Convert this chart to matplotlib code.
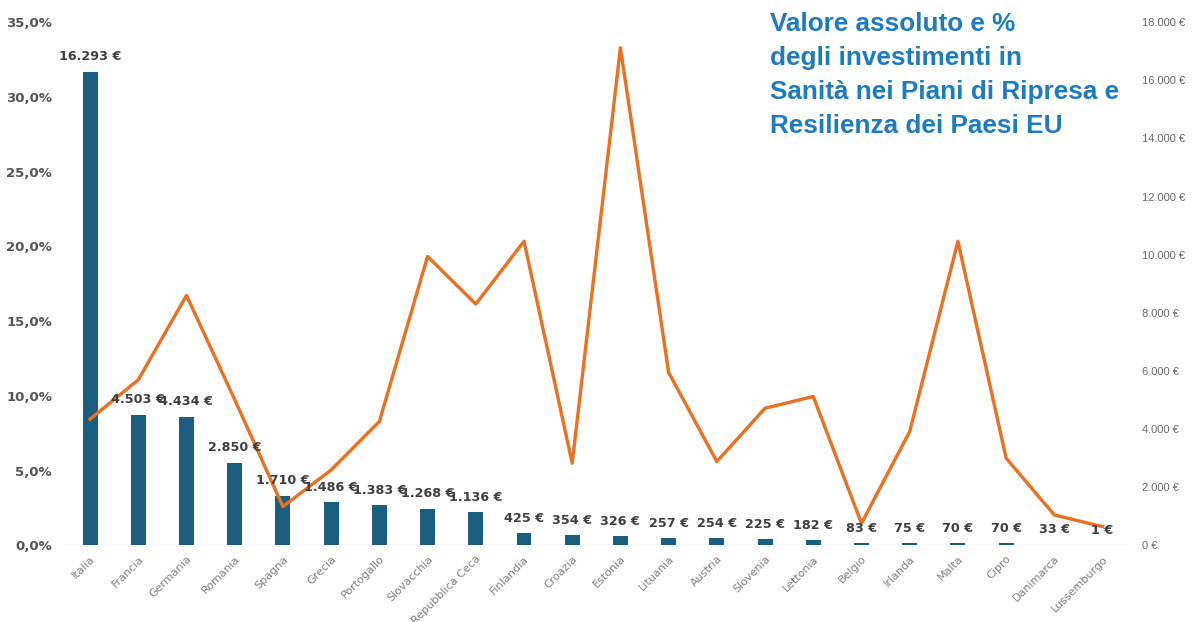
import matplotlib.pyplot as plt
from matplotlib.ticker import FuncFormatter

# Investimenti in sanità nei PNRR: valore assoluto (milioni di €) e quota %
paesi = ["Italia", "Francia", "Germania", "Romania", "Spagna", "Grecia",
         "Portogallo", "Slovacchia", "Repubblica Ceca", "Finlandia", "Croazia",
         "Estonia", "Lituania", "Austria", "Slovenia", "Lettonia", "Belgio",
         "Irlanda", "Malta", "Cipro", "Danimarca", "Lussemburgo"]
valori = [16293, 4503, 4434, 2850, 1710, 1486, 1383, 1268, 1136, 425, 354,
          326, 257, 254, 225, 182, 83, 75, 70, 70, 33, 1]
quote = [8.45, 11.08, 16.72, 9.75, 2.6, 5.05, 8.29, 19.33, 16.14, 20.34, 5.5,
         33.28, 11.57, 5.61, 9.18, 9.96, 1.48, 7.62, 20.34, 5.84, 2.04, 1.26]

BLU = "#1a5f82"
ARANCIO = "#ec7020"
TITOLO = "#1b7cc2"

def euro(v):
    return f"{v:,.0f}".replace(",", ".") + " €"

fig = plt.figure(figsize=(11.95, 6.22), dpi=100)
ax = fig.add_axes([0.0552, 0.123, 0.8876, 0.8416])
ax2 = ax.twinx()
x = range(len(paesi))

# barre sul valore assoluto (asse destro)
ax.bar(x, valori, width=0.31, color=BLU, zorder=2)
ax.set_ylim(0, 18000)
ax.set_xlim(-0.5, len(paesi) - 0.5)
ax.yaxis.set_ticks_position("right")
ax.yaxis.set_label_position("right")
ax.set_yticks(range(0, 18001, 2000))
ax.yaxis.set_major_formatter(FuncFormatter(lambda v, p: euro(v)))
ax.tick_params(axis="y", length=0, pad=11, labelsize=8, labelcolor="#6a6a6a",
               left=False, labelleft=False, right=False, labelright=True)
for lab in ax.get_yticklabels():
    lab.set_family("Liberation Sans")
ax.set_xticks(list(x))
ax.set_xticklabels(paesi, rotation=45, ha="right", rotation_mode="anchor",
                   fontsize=8, color="#808080")
ax.tick_params(axis="x", length=0, pad=6)
for s in ax.spines.values():
    s.set_visible(False)
ax.axhline(0, color="#d9d9d9", lw=1, zorder=1)

# linea della quota percentuale (asse sinistro)
ax2.plot(x, quote, color=ARANCIO, lw=2.4, zorder=3)
ax2.set_ylim(0, 35)
ax2.yaxis.set_ticks_position("left")
ax2.set_yticks(range(0, 36, 5))
ax2.yaxis.set_major_formatter(FuncFormatter(lambda v, p: f"{v:.1f}%".replace(".", ",")))
ax2.tick_params(axis="y", length=0, pad=10, labelsize=9.5, labelcolor="#555555",
                left=False, labelleft=True, right=False, labelright=False)
for lab in ax2.get_yticklabels():
    lab.set_fontweight("bold")
for s in ax2.spines.values():
    s.set_visible(False)

# etichette dei valori sopra le barre
for i, v in zip(x, valori):
    ax2.annotate(euro(v), (i, v), xycoords=ax.transData, xytext=(0, 6),
                 textcoords="offset points", ha="center", va="bottom",
                 fontsize=9.2, fontweight="bold", color="#3f3f3f", zorder=5)

fig.text(0.644, 0.98, "Valore assoluto e %\ndegli investimenti in\n"
         "Sanità nei Piani di Ripresa e\nResilienza dei Paesi EU",
         ha="left", va="top", fontsize=18.8, fontweight="bold", color=TITOLO,
         family="Liberation Sans", linespacing=1.52)

fig.savefig("out.png", dpi=100)
